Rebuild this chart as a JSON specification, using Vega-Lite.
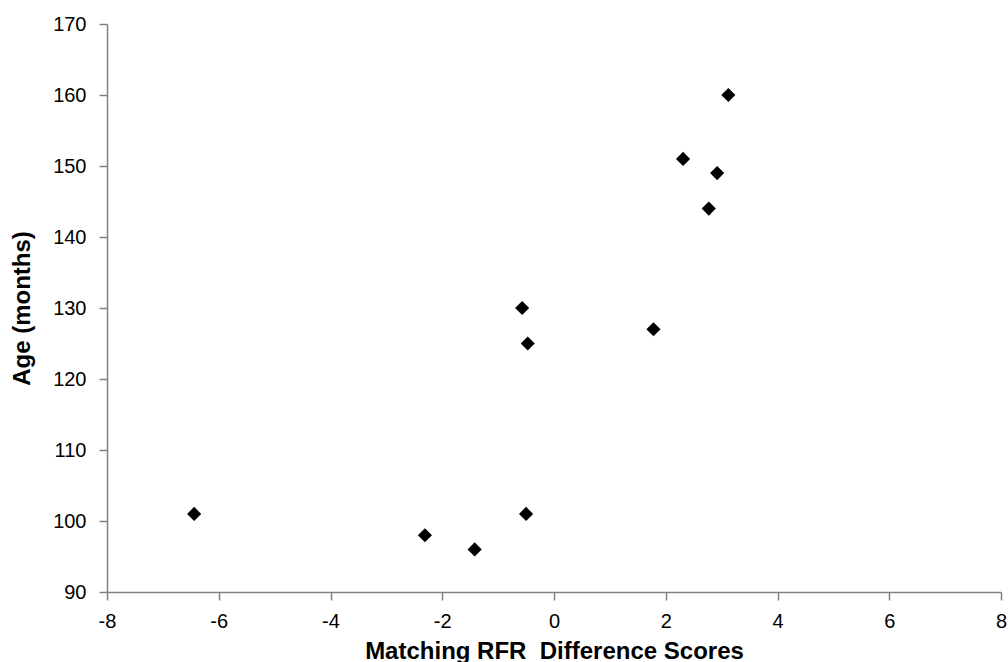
{
  "$schema": "https://vega.github.io/schema/vega-lite/v6.json",
  "autosize": "none",
  "width": 894,
  "height": 568,
  "padding": {"left": 107, "top": 24, "right": 7, "bottom": 70},
  "background": "white",
  "config": {"view": {"stroke": null}},
  "data": {
    "values": [
      {"diff": -6.44, "age": 101},
      {"diff": -2.31, "age": 98},
      {"diff": -1.42, "age": 96},
      {"diff": -0.5, "age": 101},
      {"diff": -0.57, "age": 130},
      {"diff": -0.47, "age": 125},
      {"diff": 1.78, "age": 127},
      {"diff": 2.31, "age": 151},
      {"diff": 2.77, "age": 144},
      {"diff": 2.92, "age": 149},
      {"diff": 3.12, "age": 160}
    ]
  },
  "mark": {"type": "point", "shape": "diamond", "filled": true, "color": "black", "opacity": 1, "size": 200},
  "encoding": {
    "x": {
      "field": "diff",
      "type": "quantitative",
      "scale": {"domain": [-8, 8], "nice": false, "zero": false},
      "axis": {
        "title": "Matching RFR \u00a0Difference Scores",
        "values": [-8, -6, -4, -2, 0, 2, 4, 6, 8],
        "labelExpr": "datum.value < 0 ? '-' + abs(datum.value) : '' + datum.value",
        "grid": false,
        "domainColor": "#808080",
        "domainWidth": 1.5,
        "tickColor": "#808080",
        "tickWidth": 1.5,
        "tickSize": 8,
        "labelPadding": 11,
        "labelFont": "Liberation Sans",
        "labelFontSize": 20,
        "labelColor": "black",
        "labelFlush": false,
        "labelOverlap": false,
        "titleFont": "Liberation Sans",
        "titleFontSize": 24,
        "titleFontWeight": "bold",
        "titleColor": "black",
        "titleBaseline": "alphabetic",
        "titleY": 66
      }
    },
    "y": {
      "field": "age",
      "type": "quantitative",
      "scale": {"domain": [90, 170], "nice": false, "zero": false},
      "axis": {
        "title": "Age (months)",
        "values": [90, 100, 110, 120, 130, 140, 150, 160, 170],
        "grid": false,
        "domainColor": "#808080",
        "domainWidth": 1.5,
        "tickColor": "#808080",
        "tickWidth": 1.5,
        "tickSize": 8,
        "labelPadding": 13,
        "labelFont": "Liberation Sans",
        "labelFontSize": 20,
        "labelColor": "black",
        "labelFlush": false,
        "labelOverlap": false,
        "titleFont": "Liberation Sans",
        "titleFontSize": 24,
        "titleFontWeight": "bold",
        "titleColor": "black",
        "titleBaseline": "alphabetic",
        "titleX": -78
      }
    }
  }
}
